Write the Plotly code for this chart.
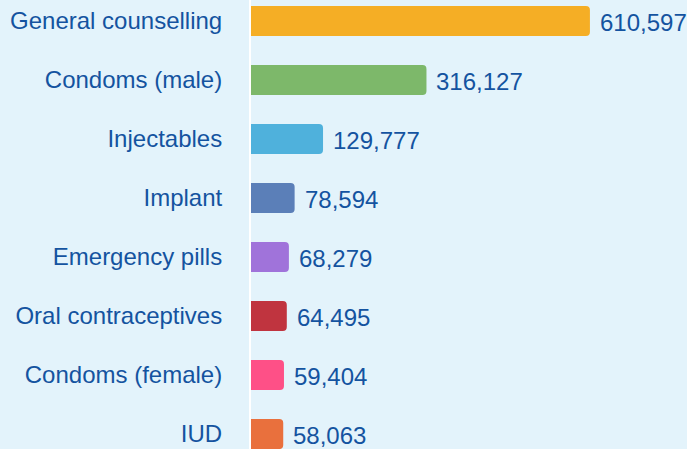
import plotly.graph_objects as go

categories = ["General counselling", "Condoms (male)", "Injectables", "Implant",
              "Emergency pills", "Oral contraceptives", "Condoms (female)", "IUD"]
values = [610597, 316127, 129777, 78594, 68279, 64495, 59404, 58063]
colors = ["#f5ae25", "#7db86a", "#4fb1dc", "#5b7fb8", "#a073da", "#c0343f", "#fe5087", "#e9703d"]

bg = "#e3f3fb"
txt = "#1453a0"

fig = go.Figure(go.Bar(
    x=values, y=categories, orientation="h",
    marker=dict(color=colors, cornerradius=4, line=dict(width=0)),
    width=0.51, hoverinfo="skip",
))

for c, v in zip(categories, values):
    fig.add_annotation(x=v, y=c, text=f"{v:,}", xanchor="left", yanchor="middle",
                       xshift=8, yshift=-1, showarrow=False, font=dict(size=24, color=txt))

fig.update_layout(
    width=687, height=449,
    margin=dict(l=251, r=0, t=0, b=0),
    paper_bgcolor=bg, plot_bgcolor=bg,
    font=dict(family="Liberation Sans, Arial, sans-serif", size=24, color=txt),
    showlegend=False,
    xaxis=dict(range=[0, 785500], visible=False, fixedrange=True),
    yaxis=dict(range=[7.254, -0.356], showgrid=False, zeroline=False,
               showline=True, linecolor="white", linewidth=2,
               ticks="", ticklabelstandoff=22, tickfont=dict(size=24, color=txt)),
)
fig.write_html("out.html", config={"displayModeBar": False},
               post_script="document.body.style.margin='0';document.body.style.overflow='hidden';")
